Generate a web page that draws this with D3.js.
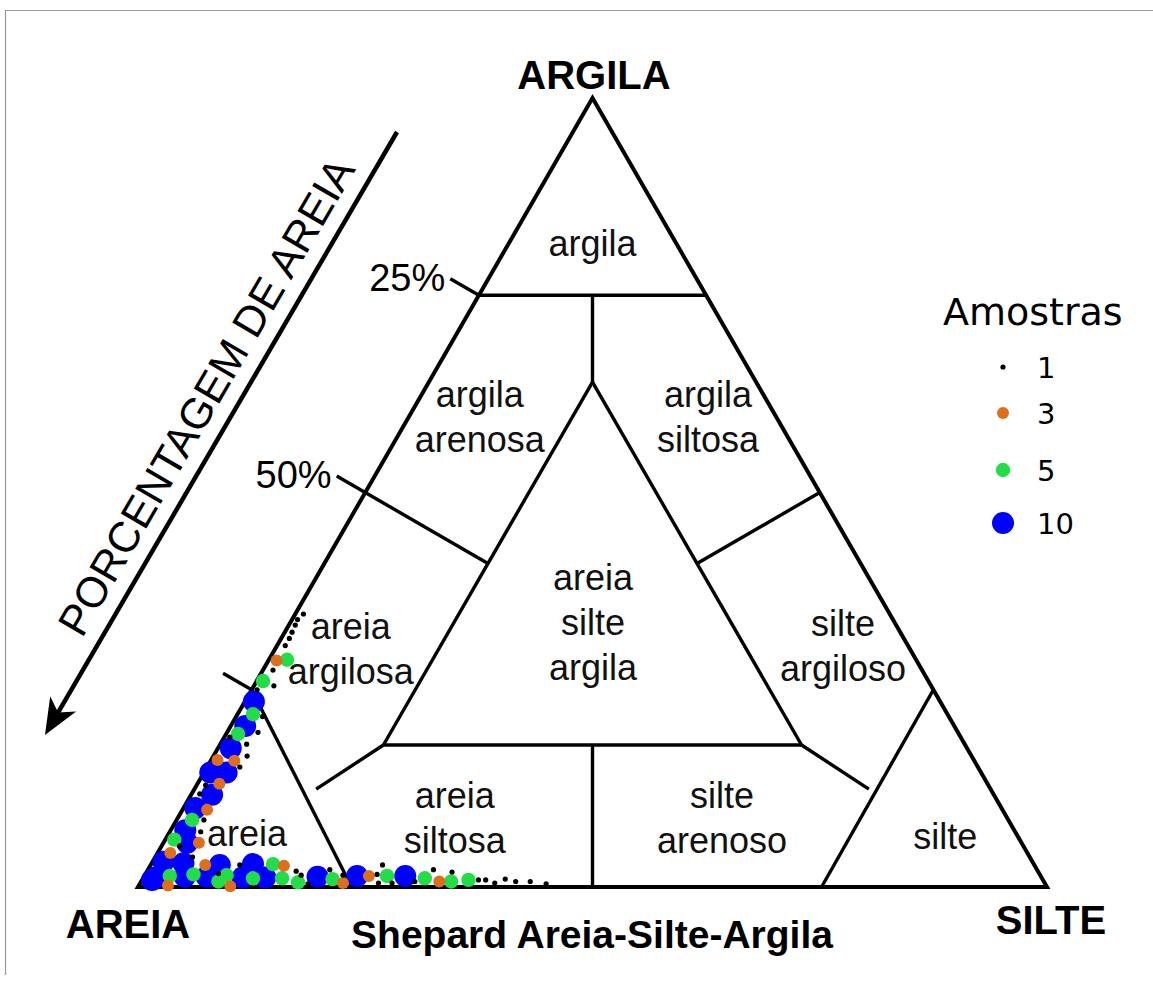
<!DOCTYPE html>
<html>
<head>
<meta charset="utf-8">
<script src="https://cdn.jsdelivr.net/npm/d3@7/dist/d3.min.js"></script>
<style>
  body { margin: 0; background: #fff; }
  svg { display: block; }
</style>
</head>
<body>
<svg id="chart" width="1153" height="981"></svg>
<script>
// Sample compositions (%) and number of samples at each composition
const areia = [64.5, 65.5, 66.1, 66.9, 67.6, 68.5, 70.4, 69.2, 71.4, 72.3, 73.2, 74.4, 75.5, 76.4, 75.5, 78.0, 77.0, 79.3, 80.4, 79.0,
  81.0, 79.7, 83.2, 81.4, 81.2, 84.8, 83.0, 84.5, 86.1, 87.3, 86.0, 88.7, 87.5, 89.8, 88.5, 91.2, 89.6, 93.0, 91.8, 90.5,
  92.8, 94.3, 92.1, 95.6, 93.5, 91.2, 89.6, 87.4, 85.9, 83.7, 82.6, 97.5, 95.8, 96.6, 94.2, 93.1, 91.8, 90.3, 90.8, 89.5,
  89.8, 87.9, 86.8, 85.4, 83.6, 81.6, 81.3, 82.1, 81.1, 79.6, 77.8, 78.1, 77.2, 76.7, 75.2, 73.9, 72.9, 73.3, 71.7, 71.9,
  71.8, 69.9, 69.2, 67.9, 66.4, 66.5, 64.5, 65.2, 63.2, 62.1, 61.3, 60.5, 59.1, 58.1, 56.5, 54.9, 98.0];
const silte = [0.9, 0.6, 0.7, 0.8, 0.9, 0.9, 0.9, 2.0, 1.1, 2.2, 0.7, 0.6, 1.0, 1.7, 2.9, 1.6, 3.4, 1.3, 0.6, 2.9,
  1.4, 3.7, 0.7, 2.6, 3.6, 0.7, 2.5, 2.4, 1.0, 0.9, 2.3, 1.3, 2.7, 1.7, 3.0, 1.6, 3.4, 1.0, 2.6, 3.9,
  2.0, 1.4, 4.1, 1.2, 3.5, 6.0, 7.6, 9.8, 11.2, 13.4, 14.7, 1.3, 2.8, 3.2, 4.5, 5.3, 6.9, 8.0, 8.5, 9.0,
  10.1, 10.9, 12.1, 13.4, 15.3, 16.4, 17.2, 17.3, 18.5, 19.1, 20.0, 20.9, 22.3, 21.8, 23.4, 24.7, 25.5, 26.2, 25.5, 26.7,
  27.7, 28.7, 30.1, 31.0, 31.4, 32.8, 33.6, 34.1, 35.9, 37.0, 37.8, 39.0, 39.9, 41.2, 42.8, 44.7, 1.1];
const argila = [34.6, 33.9, 33.2, 32.3, 31.5, 30.6, 28.7, 28.8, 27.5, 25.5, 26.1, 25.0, 23.5, 21.9, 21.6, 20.4, 19.6, 19.4, 19.0, 18.1,
  17.6, 16.6, 16.1, 16.0, 15.2, 14.5, 14.5, 13.1, 12.9, 11.8, 11.7, 10.0, 9.8, 8.5, 8.5, 7.2, 7.0, 6.0, 5.6, 5.6,
  5.2, 4.3, 3.8, 3.2, 3.0, 2.8, 2.8, 2.8, 2.9, 2.9, 2.7, 1.2, 1.4, 0.2, 1.3, 1.6, 1.3, 1.7, 0.7, 1.5,
  0.1, 1.2, 1.1, 1.2, 1.1, 2.0, 1.5, 0.6, 0.4, 1.3, 2.2, 1.0, 0.5, 1.5, 1.4, 1.4, 1.6, 0.5, 2.8, 1.4,
  0.5, 1.4, 0.7, 1.1, 2.2, 0.7, 1.9, 0.7, 0.9, 0.9, 0.9, 0.5, 1.0, 0.7, 0.7, 0.4, 0.9];
const amostras = [1, 1, 1, 1, 1, 1, 3, 5, 1, 1, 5, 1, 10, 5, 1, 10, 1, 5, 1, 1,
  10, 1, 3, 3, 1, 10, 10, 3, 1, 1, 10, 10, 3, 5, 1, 10, 1, 5, 10, 3,
  1, 3, 1, 10, 10, 3, 10, 1, 10, 5, 3, 10, 5, 3, 10, 5, 10, 1, 5, 5,
  3, 10, 5, 10, 5, 1, 1, 5, 1, 10, 1, 5, 3, 1, 10, 3, 1, 1, 1, 5,
  1, 10, 1, 5, 1, 3, 1, 5, 5, 1, 1, 1, 1, 1, 1, 1, 10];

// Legend classes
const classes = [1, 3, 5, 10];
const classColors = ["#000000", "#DD6E1E", "#22DD47", "#0000FF"];
const classRadii = [2.6, 6, 7.2, 11];

// Shepard class names and their label anchor compositions [areia, silte, argila]
const regionNames = [
  ["argila"], ["argila", "arenosa"], ["argila", "siltosa"], ["areia", "silte", "argila"],
  ["areia", "argilosa"], ["silte", "argiloso"], ["areia"], ["areia", "siltosa"],
  ["silte", "arenoso"], ["silte"]
];
const regionCentres = [
  [9.3, 9.3, 81.4], [32.7, 7.9, 59.4], [7.6, 33.0, 59.4], [33.3, 33.4, 33.3],
  [61.6, 8.4, 30.0], [7.3, 62.4, 30.3], [84.7, 8.7, 6.6], [60.9, 30.6, 8.5],
  [31.5, 60.0, 8.5], [8.1, 85.7, 6.2]
];

// Class boundaries, each as a pair of compositions [areia, silte, argila]
const boundaries = [
  [[25, 0, 75], [0, 25, 75]],
  [[12.5, 12.5, 75], [18, 18, 64]],
  [[18, 18, 64], [64, 18, 18]],
  [[64, 18, 18], [18, 64, 18]],
  [[18, 64, 18], [18, 18, 64]],
  [[50, 0, 50], [41, 18, 41]],
  [[0, 50, 50], [18, 41, 41]],
  [[41, 41, 18], [50, 50, 0]],
  [[75, 0, 25], [76.5, 23.5, 0]],
  [[0, 75, 25], [24.8, 75.2, 0]],
  [[64, 18, 18], [74.2, 13.4, 12.4]],
  [[18, 64, 18], [13.4, 74.2, 12.4]]
];

// Sand-axis ticks
const tickValues = [25, 50, 75];
const tickLabels = ["25%", "50%", ""];

const svg = d3.select("#chart");

// frame lines
svg.append("path")
  .attr("d", "M5.5,975 L5.5,10.5 L1153,10.5")
  .attr("fill", "none").attr("stroke", "#9a9a9a").attr("stroke-width", 1.2);

// Ternary projection: horizontal position from silt + clay/2, vertical from clay
const xS = d3.scaleLinear().domain([0, 100]).range([138, 1047]);
const yS = d3.scaleLinear().domain([0, 100]).range([887, 98]);
function proj(c) {
  const t = c[0] + c[1] + c[2];
  const si = c[1] / t * 100, cl = c[2] / t * 100;
  return [xS(si + cl / 2), yS(cl)];
}
const line = d3.line();

const g = svg.append("g");

// class boundaries
g.selectAll("path.bnd").data(boundaries).join("path")
  .attr("class", "bnd")
  .attr("d", d => line(d.map(proj)))
  .attr("fill", "none").attr("stroke", "#000").attr("stroke-width", 3.4)
  .attr("stroke-linecap", "butt");

// outer triangle
g.append("path")
  .attr("d", line([[100, 0, 0], [0, 100, 0], [0, 0, 100]].map(proj)) + "Z")
  .attr("fill", "none").attr("stroke", "#000").attr("stroke-width", 4)
  .attr("stroke-linejoin", "miter");

// sand ticks on the sand-clay edge (perpendicular, outward)
const tickLen = 33;
const nrm = [-Math.sin(Math.PI / 3), -Math.cos(Math.PI / 3)]; // up-left normal of the left edge
tickValues.forEach((v, i) => {
  const p = proj([v, 0, 100 - v]);
  const q = [p[0] + nrm[0] * tickLen, p[1] + nrm[1] * tickLen];
  g.append("line")
    .attr("x1", p[0]).attr("y1", p[1]).attr("x2", q[0]).attr("y2", q[1])
    .attr("stroke", "#000").attr("stroke-width", 3.4);
  if (tickLabels[i]) {
    g.append("text")
      .attr("x", q[0] - 5).attr("y", q[1] + 12)
      .attr("text-anchor", "end")
      .attr("font-family", "Liberation Sans, Arial, sans-serif")
      .attr("font-size", 38)
      .text(tickLabels[i]);
  }
});

// region labels
const lh = 45;
regionNames.forEach((lines, i) => {
  const p = proj(regionCentres[i]);
  const t = g.append("text")
    .attr("text-anchor", "middle")
    .attr("font-family", "Liberation Sans, Arial, sans-serif")
    .attr("font-size", 36)
    .attr("fill", "#111");
  const y0 = p[1] - (lines.length - 1) * lh / 2 + 11;
  lines.forEach((s, j) => {
    t.append("tspan").attr("x", p[0]).attr("y", y0 + j * lh).text(s);
  });
});

// sample points, largest classes underneath
const pts = areia.map((a, i) => ({ c: [a, silte[i], argila[i]], n: amostras[i] }));
const order = pts.slice().sort((a, b) => b.n - a.n);
g.selectAll("circle.pt").data(order).join("circle")
  .attr("class", "pt")
  .attr("cx", d => proj(d.c)[0])
  .attr("cy", d => proj(d.c)[1])
  .attr("r", d => classRadii[classes.indexOf(d.n)])
  .attr("fill", d => classColors[classes.indexOf(d.n)]);

// vertex labels and title
const boldFont = "Liberation Sans, Arial, sans-serif";
function boldText(x, y, s, size) {
  svg.append("text").attr("x", x).attr("y", y)
    .attr("text-anchor", "middle")
    .attr("font-family", boldFont).attr("font-weight", "bold")
    .attr("font-size", size)
    .text(s);
}
boldText(594, 89, "ARGILA", 40);
boldText(128, 938, "AREIA", 40);
boldText(1051, 934, "SILTE", 40);
boldText(592, 948, "Shepard Areia-Silte-Argila", 39);

// direction arrow for sand percentage
const a0 = [397, 132], a1 = [45, 735];
const ang = Math.atan2(a1[1] - a0[1], a1[0] - a0[0]);
const headLen = 36, headW = 15, notch = 10;
const ux = Math.cos(ang), uy = Math.sin(ang);
const px = -uy, py = ux;
svg.append("line")
  .attr("x1", a0[0]).attr("y1", a0[1])
  .attr("x2", a1[0] - ux * 20).attr("y2", a1[1] - uy * 20)
  .attr("stroke", "#000").attr("stroke-width", 4.5);
const base = [a1[0] - ux * headLen, a1[1] - uy * headLen];
const inner = [a1[0] - ux * (headLen - notch), a1[1] - uy * (headLen - notch)];
svg.append("path")
  .attr("d", `M${a1[0]},${a1[1]} L${base[0] + px * headW},${base[1] + py * headW} L${inner[0]},${inner[1]} L${base[0] - px * headW},${base[1] - py * headW} Z`)
  .attr("fill", "#000");

// axis title along the arrow
const angDeg = Math.atan2(a0[1] - a1[1], a0[0] - a1[0]) * 180 / Math.PI;
svg.append("text")
  .attr("transform", `translate(219,404) rotate(${angDeg})`)
  .attr("text-anchor", "middle")
  .attr("font-family", "Liberation Sans, Arial, sans-serif")
  .attr("font-size", 43)
  .text("PORCENTAGEM DE AREIA");

// legend
const lg = svg.append("g");
lg.append("text").attr("x", 943).attr("y", 325)
  .attr("font-family", "DejaVu Sans, Verdana, sans-serif")
  .attr("font-size", 38).text("Amostras");
const legY = [367, 413, 470, 523];
classes.forEach((c, i) => {
  lg.append("circle").attr("cx", 1003).attr("cy", legY[i])
    .attr("r", classRadii[i]).attr("fill", classColors[i]);
  lg.append("text").attr("x", 1037).attr("y", legY[i] + 11)
    .attr("font-family", "DejaVu Sans, Verdana, sans-serif")
    .attr("font-size", 29).text(c);
});
</script>
</body>
</html>
